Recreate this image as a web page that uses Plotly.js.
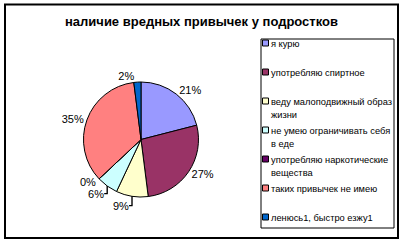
<!DOCTYPE html>
<html><head><meta charset="utf-8">
<script src="https://cdn.plot.ly/plotly-3.0.1.min.js"></script>
<style>body{margin:0;background:#fff}#c{width:403px;height:243px}</style>
</head><body><div id="c"></div>
<script>
var labels = ["я курю", "употребляю спиртное", "веду малоподвижный образ<br>жизни", "не умею ограничивать себя<br>в еде", "употребляю наркотические<br>вещества", "таких привычек не имею", "ленюсь1, быстро езжу1"];
var values = [21, 27, 9, 6, 0, 35, 2];
var colors = ["#9999FF", "#993366", "#FFFFCC", "#CCFFFF", "#660066", "#FF8080", "#0066CC"];
var title = "наличие вредных привычек у подростков";

var W = 403, H = 243;
var cx = 141, cy = 139.5, r = 57.5;
var legendLabels = labels.map(function (s) {
  var parts = s.split("<br>");
  if (parts.length < 2) parts.push(" ");
  return parts.map(function (p) { return '<span style="font-size:9.3px">' + p + '</span>'; }).join("<br>");
});
var data = [{
  type: "pie", labels: legendLabels, values: values, sort: false, direction: "clockwise", rotation: 0,
  marker: {colors: colors, line: {color: "#000", width: 1}},
  textinfo: "percent", textposition: "outside",
  texttemplate: "%{percent:.0%}",
  textfont: {family: "Liberation Sans, Arial", size: 11, color: "#000"},
  domain: {x: [(cx - r) / W, (cx + r) / W], y: [1 - (cy + r) / H, 1 - (cy - r) / H]},
  hoverinfo: "none"
}];
var layout = {
  width: W, height: H, margin: {l: 0, r: 0, t: 0, b: 0},
  paper_bgcolor: "#fff",
  title: {text: "<b>" + title + "</b>", x: 0.5, xanchor: "center", y: 1 - 21 / H, yanchor: "middle",
    font: {family: "Liberation Sans, Arial", size: 13, color: "#000"}},
  showlegend: true,
  legend: {x: 231 / W, xanchor: "left", y: 1 - 33.5 / H, yanchor: "top", valign: "top",
    borderwidth: 0, bgcolor: "rgba(0,0,0,0)",
    font: {family: "Liberation Sans, Arial", size: 10, color: "#000"}, itemclick: false},
  shapes: [
    {type: "rect", xref: "paper", yref: "paper", x0: 5 / W, x1: 398 / W, y0: 1 - 238 / H, y1: 1 - 4.5 / H,
      line: {color: "#000", width: 2}},
    {type: "rect", xref: "paper", yref: "paper", x0: 261 / W, x1: 394 / W, y0: 1 - 228 / H, y1: 1 - 39 / H,
      line: {color: "#000", width: 1}}
  ]
};
Plotly.newPlot("c", data, layout, {staticPlot: true}).then(function (gd) {
  gd.querySelectorAll(".legendpoints path").forEach(function (p) {
    p.setAttribute("transform", "translate(34.5,0) scale(0.5)");
    p.style.strokeWidth = "2px";
  });
});
</script></body></html>
